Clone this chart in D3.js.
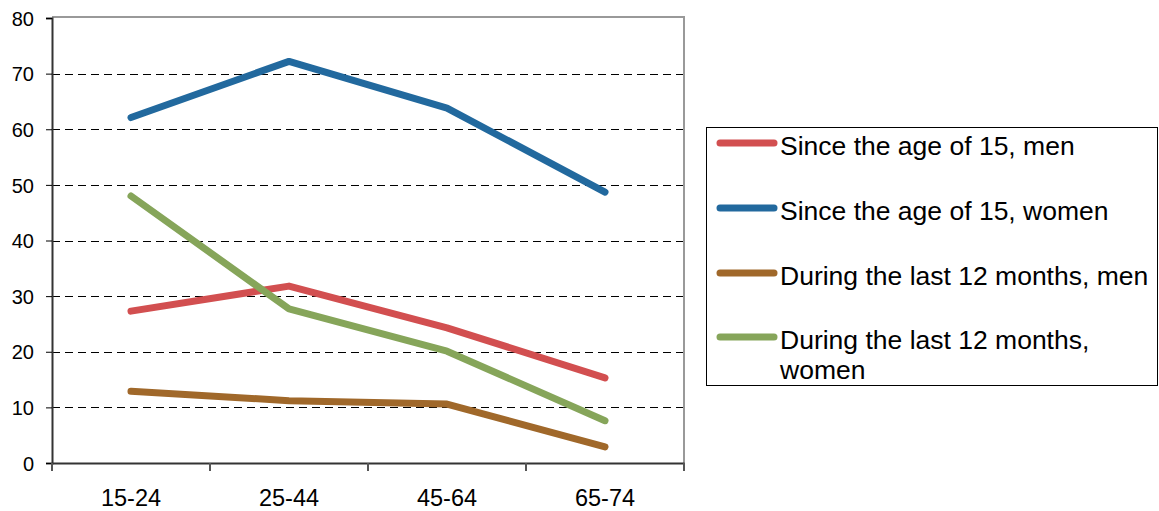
<!DOCTYPE html>
<html>
<head>
<meta charset="utf-8">
<script src="https://cdn.jsdelivr.net/npm/d3@7"></script>
<style>
  body { margin: 0; background: #fff; }
  text { font-family: Arial, "Liberation Sans", sans-serif; fill: #000; }
</style>
</head>
<body>
<div id="chart"></div>
<script>
const ageGroups = ['15-24', '25-44', '45-64', '65-74'];
const seriesNames = [
  'Since the age of 15, men',
  'Since the age of 15, women',
  'During the last 12 months, men',
  'During the last 12 months, women'
];
const menSince15 = [27.3, 31.8, 24.3, 15.3];
const womenSince15 = [62.1, 72.2, 63.8, 48.7];
const menLast12 = [12.9, 11.2, 10.6, 2.9];
const womenLast12 = [48.0, 27.7, 20.1, 7.6];
const yTicks = [0, 10, 20, 30, 40, 50, 60, 70, 80];
const colors = ['#d24f50', '#22699e', '#a0682a', '#86a55a'];

const allSeries = [menSince15, womenSince15, menLast12, womenLast12];

const width = 1159, height = 511;
const plot = { left: 52, right: 684, top: 18, bottom: 463 };

const svg = d3.select('#chart')
  .append('svg')
  .attr('width', width)
  .attr('height', height);

const x = d3.scaleBand()
  .domain(ageGroups)
  .range([plot.left, plot.right]);

const y = d3.scaleLinear()
  .domain([0, 80])
  .range([plot.bottom, plot.top]);

// gridlines
svg.selectAll('line.grid')
  .data(yTicks.filter(d => d > 0 && d < 80))
  .enter()
  .append('line')
  .attr('x1', plot.left)
  .attr('x2', plot.right)
  .attr('y1', d => Math.round(y(d)) + 0.5)
  .attr('y2', d => Math.round(y(d)) + 0.5)
  .attr('stroke', '#000')
  .attr('stroke-dasharray', '8,5');

// frame top / right
svg.append('line')
  .attr('x1', plot.left).attr('x2', plot.right + 1)
  .attr('y1', plot.top - 1).attr('y2', plot.top - 1)
  .attr('stroke', '#999').attr('stroke-width', 2);
svg.append('line')
  .attr('x1', plot.right).attr('x2', plot.right)
  .attr('y1', plot.top - 2).attr('y2', plot.bottom)
  .attr('stroke', '#999').attr('stroke-width', 2);

// y axis
const yAxis = svg.append('g')
  .attr('transform', `translate(${plot.left},0)`)
  .call(d3.axisLeft(y).tickValues(yTicks).tickSize(6).tickPadding(12));
yAxis.select('.domain').attr('stroke', '#333').attr('stroke-width', 2);
yAxis.selectAll('.tick line').attr('stroke', '#000');
yAxis.selectAll('.tick text')
  .style('font-size', '20px')
  .attr('dy', '0.36em');

// x axis
const xAxis = svg.append('g')
  .attr('transform', `translate(0,${plot.bottom})`)
  .call(d3.axisBottom(x).tickSize(0).tickPadding(26));
xAxis.select('.domain').attr('stroke', '#333').attr('stroke-width', 2);
xAxis.selectAll('.tick text').style('font-size', '23.5px');

// category boundary ticks
const bounds = ageGroups.map(d => x(d)).concat([plot.right]);
svg.selectAll('line.xtick')
  .data(bounds)
  .enter()
  .append('line')
  .attr('x1', d => Math.round(d))
  .attr('x2', d => Math.round(d))
  .attr('y1', plot.bottom)
  .attr('y2', plot.bottom + 8)
  .attr('stroke', '#555')
  .attr('stroke-width', 2);

// lines
const line = d3.line()
  .x((d, i) => x(ageGroups[i]) + x.bandwidth() / 2)
  .y(d => y(d));

svg.selectAll('path.series')
  .data(allSeries)
  .enter()
  .append('path')
  .attr('d', line)
  .attr('fill', 'none')
  .attr('stroke', (d, i) => colors[i])
  .attr('stroke-width', 7)
  .attr('stroke-linecap', 'round')
  .attr('stroke-linejoin', 'round');

// legend
const legend = svg.append('g');
legend.append('rect')
  .attr('x', 706.5).attr('y', 127.5)
  .attr('width', 451).attr('height', 258)
  .attr('fill', '#fff')
  .attr('stroke', '#000');

const legendY = [143, 208, 273, 337];
seriesNames.forEach((name, i) => {
  legend.append('line')
    .attr('x1', 720).attr('x2', 774)
    .attr('y1', legendY[i]).attr('y2', legendY[i])
    .attr('stroke', colors[i])
    .attr('stroke-width', 7)
    .attr('stroke-linecap', 'round');
  const t = legend.append('text')
    .attr('x', 780)
    .attr('y', legendY[i] + 12)
    .style('font-size', '26.5px');
  if (i === 3) {
    t.append('tspan').attr('x', 780).text('During the last 12 months,');
    t.append('tspan').attr('x', 780).attr('dy', 30).text('women');
  } else {
    t.text(name);
  }
});
</script>
</body>
</html>
